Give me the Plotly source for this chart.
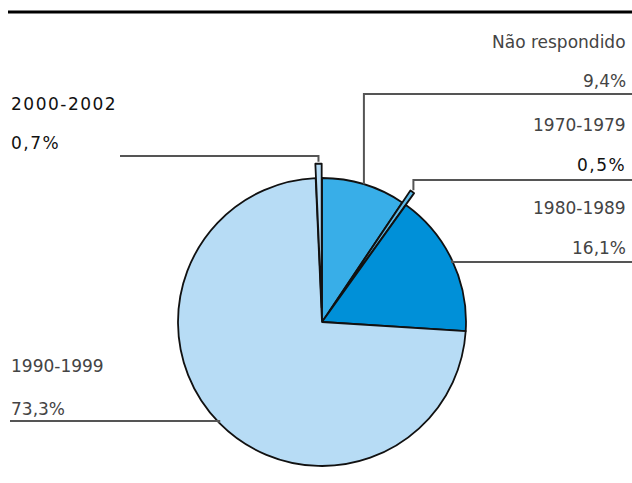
import math
import plotly.graph_objects as go

# ---- data ----
labels = ["Não respondido", "1970-1979", "1980-1989", "1990-1999", "2000-2002"]
values = [9.4, 0.5, 16.1, 73.3, 0.7]
value_text = ["9,4%", "0,5%", "16,1%", "73,3%", "0,7%"]
colors = ["#38aee8", "#5cbbea", "#0090d8", "#b7dcf5", "#b7dcf5"]
pulls = [0, 0.1, 0, 0, 0.1]

W, H = 632, 483
CX, CY, R = 322, 322, 144
MAXPULL = max(pulls)
HALF = R * (1 + MAXPULL)

def px(x):
    return x / W

def py(y):
    return 1 - y / H

fig = go.Figure(go.Pie(
    labels=labels, values=values, sort=False, direction="clockwise", rotation=0,
    marker=dict(colors=colors, line=dict(color="#111111", width=1.8)),
    pull=pulls, textinfo="none", hoverinfo="label+percent", showlegend=False,
    domain=dict(x=[px(CX - HALF), px(CX + HALF)], y=[py(CY + HALF), py(CY - HALF)]),
))

# label layout (pixel space)
label_layout = {
    "Não respondido": dict(tx=628, side="right", ny=50, vy=89, uy=94, ex=632),
    "1970-1979": dict(tx=628, side="right", ny=133, vy=173, uy=180, ex=632),
    "1980-1989": dict(tx=628, side="right", ny=216, vy=256, uy=262, ex=632),
    "1990-1999": dict(tx=9, side="left", ny=374, vy=417, uy=421, ex=10),
    "2000-2002": dict(tx=9, side="left", ny=112, vy=151, uy=156, ex=120),
}
gray, black = "#444444", "#111111"
name_style = {"Não respondido": (gray, 0), "1970-1979": (gray, 0), "1980-1989": (gray, 0),
              "1990-1999": (gray, 0), "2000-2002": (black, 1.5)}
value_style = {"Não respondido": (gray, 0), "1970-1979": (black, 1.5), "1980-1989": (gray, 0),
               "1990-1999": (gray, 0), "2000-2002": (black, 1.5)}

def styled(t, spacing):
    if spacing:
        return f'<span style="letter-spacing:{spacing}px">{t}</span>'
    return t

total = sum(values)
cum = 0.0
shapes = []
annotations = []
for lab, v, vt, pl in zip(labels, values, value_text, pulls):
    mid = (cum + v / 2) / total * 2 * math.pi
    cum += v
    rr = R * (1 + pl) + (2 if pl else 0)
    ax = CX + rr * math.sin(mid)
    ay = CY - rr * math.cos(mid)
    L = label_layout[lab]
    path = f"M {px(ax)} {py(ay)} L {px(ax)} {py(L['uy'])} L {px(L['ex'])} {py(L['uy'])}"
    shapes.append(dict(type="path", xref="paper", yref="paper", path=path,
                       line=dict(color="#555555", width=2)))
    xanchor = "right" if L["side"] == "right" else "left"
    for txt, yy, (col, sp) in ((lab, L["ny"], name_style[lab]), (vt, L["vy"], value_style[lab])):
        annotations.append(dict(x=px(L["tx"]), y=py(yy), xref="paper", yref="paper",
                                text=styled(txt, sp), showarrow=False, xanchor=xanchor,
                                yanchor="bottom", yshift=-4,
                                font=dict(size=17, color=col)))

# top rule
shapes.append(dict(type="line", xref="paper", yref="paper", x0=px(8), x1=1, y0=py(12), y1=py(12),
                   line=dict(color="black", width=3)))

fig.update_layout(
    width=W, height=H, margin=dict(l=0, r=0, t=0, b=0),
    paper_bgcolor="white", plot_bgcolor="white",
    font=dict(family="DejaVu Sans, Arial, sans-serif"),
    shapes=shapes, annotations=annotations,
)
fig.write_html("out.html", config={"displayModeBar": False},
               post_script="document.body.style.margin='0px';")
